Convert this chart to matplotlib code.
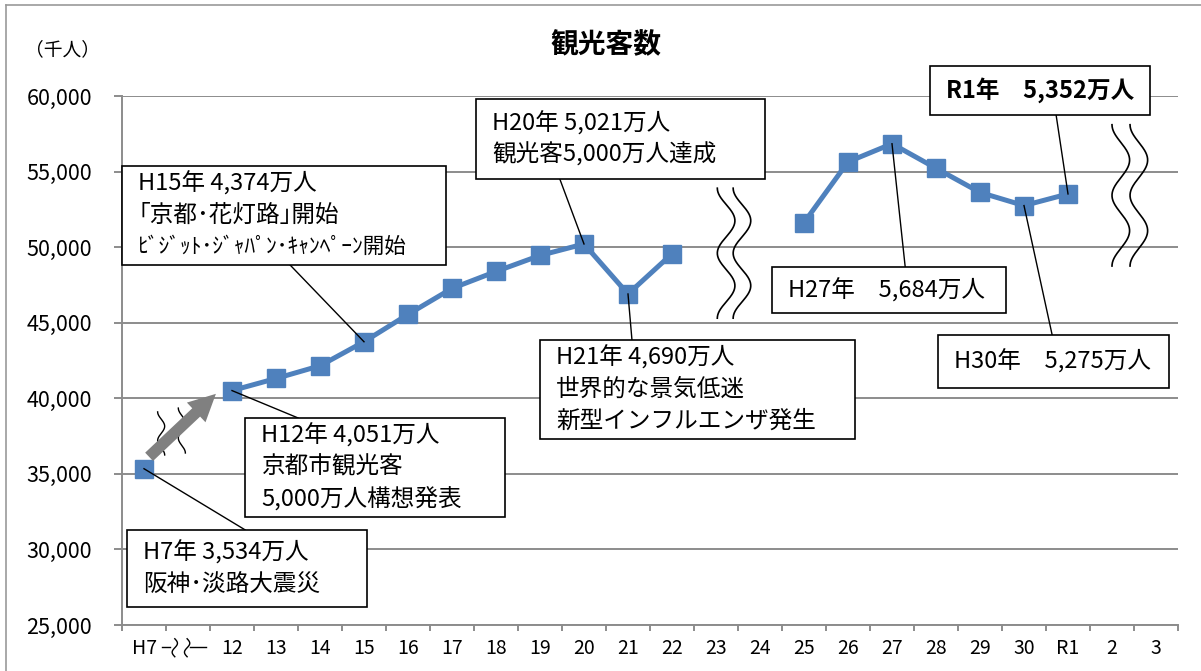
import numpy as np
import matplotlib
matplotlib.use("Agg")
import matplotlib.pyplot as plt
from matplotlib.patches import Rectangle, FancyArrowPatch
from matplotlib.lines import Line2D

plt.rcParams['font.family'] = ['Noto Sans CJK JP', 'DejaVu Sans']

# -----------------------------
# データ
# -----------------------------
labels = ["H7", "", "12", "13", "14", "15", "16", "17", "18", "19", "20", "21",
          "22", "23", "24", "25", "26", "27", "28", "29", "30", "R1", "2", "3"]
visitors = [35340, np.nan, 40510, 41310, 42150, 43740, 45550, 47270, 48390, 49450,
            50210, 46900, 49560, np.nan, np.nan, 51620, 55640, 56840, 55220, 53620,
            52750, 53520, np.nan, np.nan]

# 注記 (対象カテゴリ, 文字列, 箱[x0, x1, y0, y1], 引出線の箱側の点, 太字)
notes = [
    (0, ["H7年 3,534万人", "阪神･淡路大震災"],
     (-0.39, 5.07, 26190, 31290), (2.30, 31290), False),
    (2, ["H12年 4,051万人", "京都市観光客", "5,000万人構想発表"],
     (2.30, 8.20, 32150, 38700), (3.50, 38700), False),
    (5, ["H15年 4,374万人", "｢京都･花灯路｣開始", "ﾋﾞｼﾞｯﾄ･ｼﾞｬﾊﾟﾝ･ｷｬﾝﾍﾟｰﾝ開始"],
     (-0.50, 6.86, 48820, 55370), (3.32, 48820), False),
    (10, ["H20年 5,021万人", "観光客5,000万人達成"],
     (7.55, 14.11, 54510, 59800), (9.45, 54510), False),
    (11, ["H21年 4,690万人", "世界的な景気低迷", "新型インフルエンザ発生"],
     (9.00, 16.16, 37310, 43860), (11.09, 43860), False),
    (17, ["H27年　5,684万人"],
     (14.27, 19.59, 45640, 48690), (17.30, 48690), False),
    (20, ["H30年　5,275万人"],
     (18.05, 23.30, 40680, 44190), (20.64, 44190), False),
    (21, ["R1年　5,352万人"],
     (17.86, 22.86, 58740, 61990), (20.73, 58740), True),
]

BLUE = "#4F81BD"
GRID = "#8C8C8C"

fig = plt.figure(figsize=(12.01, 6.71), dpi=100)
ax = fig.add_axes([122 / 1201, 46 / 671, 1056 / 1201, 529 / 671])

x = np.arange(len(labels))
ax.plot(x, visitors, color=BLUE, lw=3.6, marker="s", ms=12.5,
        markeredgecolor=BLUE, zorder=3)

ax.set_xlim(-0.5, len(labels) - 0.5)
ax.set_ylim(25000, 60000)
ax.set_yticks(np.arange(25000, 60001, 5000))
ax.yaxis.set_major_formatter(matplotlib.ticker.FuncFormatter(lambda v, p: f"{int(v):,}"))
ax.grid(axis="y", color=GRID, lw=1.4, zorder=0)
ax.set_axisbelow(True)

ax.set_xticks(x)
ax.set_xticklabels(labels)
ax.set_xticks(np.arange(-0.5, len(labels), 1), minor=True)
ax.tick_params(axis="x", which="major", length=0, labelsize=14, pad=9)
ax.tick_params(axis="x", which="minor", length=4.5, color=GRID, width=1.4)
ax.tick_params(axis="y", length=5.5, color=GRID, width=1.4, labelsize=15.5, pad=16)

for s in ["top", "right"]:
    ax.spines[s].set_visible(False)
for s in ["left", "bottom"]:
    ax.spines[s].set_color(GRID)
    ax.spines[s].set_linewidth(1.4)

# 波線 (省略記号)
def wave(xc, y0, y1, amp, periods, lw):
    t = np.linspace(0, 1, 200)
    ax.plot(xc - amp * np.cos(2 * np.pi * periods * t), y0 + (y1 - y0) * t,
            color="black", lw=lw, zorder=2, clip_on=False)

for xc in (13.23, 13.59):
    wave(xc, 53900, 45300, 0.2, 2, 1.2)
for xc in (22.20, 22.61):
    wave(xc, 58100, 48750, 0.2, 2, 1.2)
for xc, ya, yb in ((0.39, 39100, 36250), (0.86, 39350, 36380)):
    wave(xc, ya, yb, 0.08, 1.5, 1.0)

# H7 -> H12 の矢印
arr = FancyArrowPatch((0.07, 36000), (1.68, 40420),
                      arrowstyle="simple,head_length=2.6,head_width=2.6,tail_width=1.1",
                      mutation_scale=7.5, color="#808080", lw=0, zorder=4)
ax.add_patch(arr)

# x軸の省略記号ラベル
tr = ax.get_xaxis_transform()
ax.plot([0.40, 0.60], [-0.042, -0.042], color="black", lw=1, transform=tr, clip_on=False)
ax.plot([1.04, 1.40], [-0.042, -0.042], color="black", lw=1, transform=tr, clip_on=False)
for xc in (0.70, 0.98):
    t = np.linspace(0, 1, 60)
    ax.plot(xc + 0.06 * np.sin(2 * np.pi * t), -0.026 - 0.034 * t,
            color="black", lw=1, transform=tr, clip_on=False)

# 注記ボックス
for idx, lines, (x0, x1, y0, y1), (lx, ly), bold in notes:
    ax.plot([idx, lx], [visitors[idx], ly], color="black", lw=1, zorder=4, clip_on=False)
    ax.add_patch(Rectangle((x0, y0), x1 - x0, y1 - y0, facecolor="white",
                           edgecolor="black", lw=1.2, zorder=5, clip_on=False))
    n = len(lines)
    step = 2110
    top = (y0 + y1) / 2 + step * (n - 1) / 2
    for k, line in enumerate(lines):
        fs = 15.5 if "ﾋﾞ" in line else 17
        ax.text(x0 + 0.37, top - k * step, line, fontsize=fs, va="center", ha="left",
                fontweight="bold" if bold else "normal", zorder=6, clip_on=False)

fig.text(606 / 1201, 1 - 45 / 671, "観光客数", fontsize=20, fontweight="bold",
         ha="center", va="center")
fig.text(62 / 1201, 1 - 50 / 671, "（千人）", fontsize=13.5, ha="center", va="center")

# 外枠
fig.add_artist(Line2D([6 / 1201, 6 / 1201], [0, 1 - 5 / 671], color="#999999", lw=1.2))
fig.add_artist(Line2D([6 / 1201, 1], [1 - 5 / 671, 1 - 5 / 671], color="#999999", lw=1.2))

fig.savefig("out.png", dpi=100)
